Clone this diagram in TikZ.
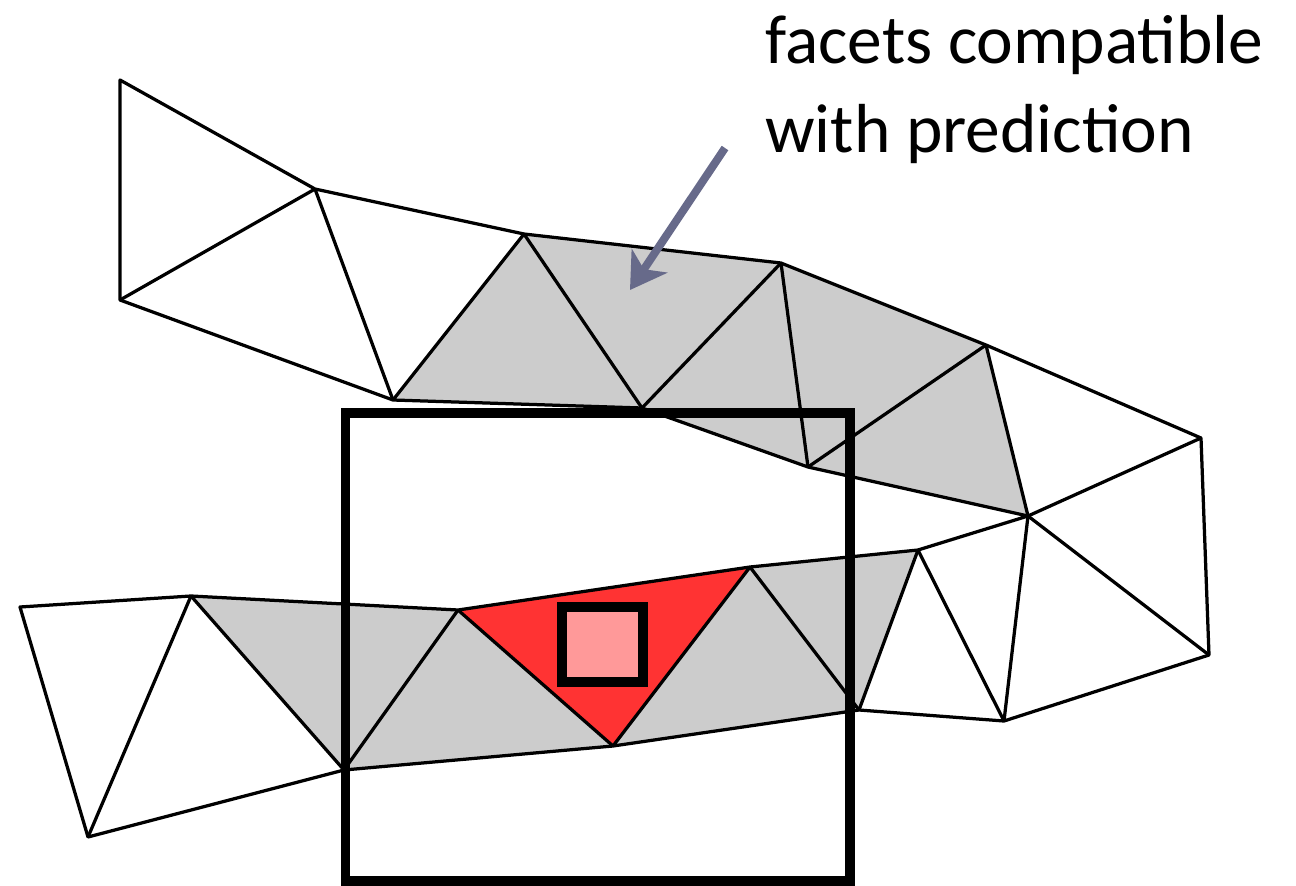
\documentclass[tikz,border=0pt]{standalone}
\usepackage{fontspec}
\setmainfont{Carlito}
\usetikzlibrary{arrows.meta}
\definecolor{facetgray}{HTML}{CCCCCC}
\definecolor{facetred}{HTML}{FF3333}
\definecolor{facetpink}{HTML}{FF9999}
\definecolor{pointergray}{HTML}{676A8A}

\begin{document}
\begin{tikzpicture}[x=0.02cm,y=-0.02cm,
  edge/.style={line width=0.065cm,line join=round},
  frame/.style={line width=0.19cm},
  pointer/.style={pointergray,line width=0.16cm,
    -{Stealth[length=0.7cm,width=0.85cm,inset=0.2cm]}},
  note/.style={font=\fontsize{39.5}{50.5}\selectfont,align=left,anchor=base west,inner sep=0pt}]
  \useasboundingbox (0,0) rectangle (1296,886);
  % 上の帯の頂点
  \coordinate (a1) at (120,80);  \coordinate (a2) at (315,189);
  \coordinate (a3) at (524,234); \coordinate (a4) at (781,263);
  \coordinate (a5) at (986,345); \coordinate (a6) at (1201,438);
  \coordinate (b1) at (120,300); \coordinate (b2) at (393,400);
  \coordinate (b3) at (642,408); \coordinate (b4) at (808,467);
  \coordinate (b5) at (1028,516);
  \coordinate (c1) at (1209,655); \coordinate (c2) at (1004,721);
  % 下の帯の頂点
  \coordinate (l1) at (20,607);  \coordinate (l2) at (191,596);
  \coordinate (l3) at (458,610); \coordinate (l4) at (750,567);
  \coordinate (l5) at (918,550);
  \coordinate (m1) at (88,837);  \coordinate (m2) at (344,770);
  \coordinate (m3) at (613,746); \coordinate (m4) at (859,710);
  % 予測と両立するファセット（灰色）
  \fill[facetgray] (b2) -- (a3) -- (a4) -- (a5) -- (b5) -- (b4) -- (b3) -- cycle;
  \fill[facetgray] (l2) -- (l3) -- (l4) -- (l5) -- (m4) -- (m3) -- (m2) -- cycle;
  % 点を含むファセット（赤）
  \fill[facetred] (l3) -- (l4) -- (m3) -- cycle;
  % 帯の外周
  \draw[edge] (a1) -- (a2) -- (a3) -- (a4) -- (a5) -- (a6) -- (c1) -- (c2)
    -- (m4) -- (m3) -- (m2) -- (m1) -- (l1) -- (l2) -- (l3) -- (l4) -- (l5)
    -- (b5) -- (b4) -- (b3) -- (b2) -- (b1) -- cycle;
  % 内部の辺
  \foreach \p/\q in {b1/a2,a2/b2,b2/a3,a3/b3,b3/a4,a4/b4,b4/a5,a5/b5,
      b5/a6,b5/c1,b5/c2,l5/c2,l5/m4,m4/l4,l4/m3,m3/l3,l3/m2,m2/l2,l2/m1}
    \draw[edge] (\p) -- (\q);
  % 探索窓と予測位置
  \draw[frame] (345.5,413) rectangle (850,881);
  \draw[frame,fill=facetpink] (562,607) rectangle (643,682);
  % 注記（base は最終行）
  \node[note] (label) at (765,152) {facets compatible\\with prediction};
  \coordinate (tail) at (725,148);
  \coordinate (tip) at (630,290);
  \draw[pointer] (tail) -- (tip);
\end{tikzpicture}
\end{document}
